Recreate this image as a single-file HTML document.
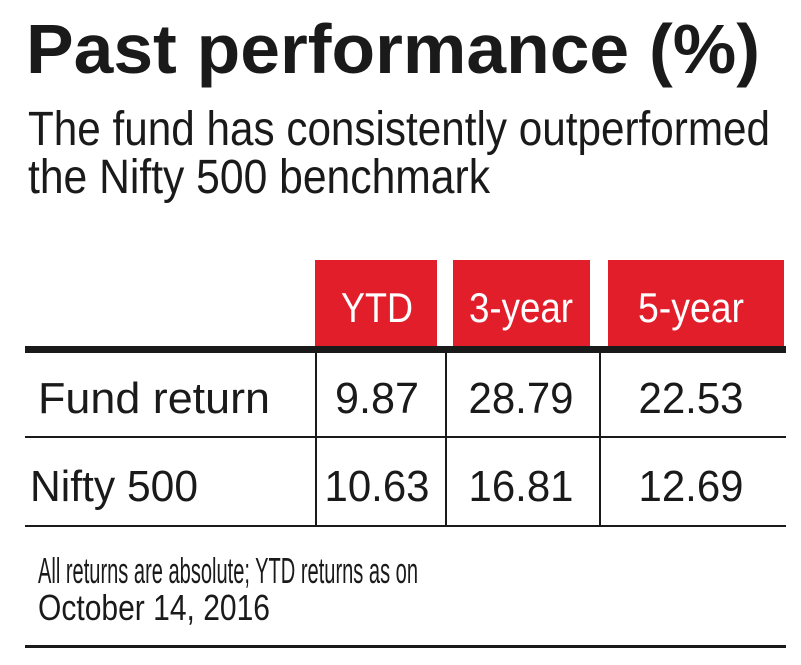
<!DOCTYPE html>
<html><head><meta charset="utf-8"><style>
html,body{margin:0;padding:0;background:#fff;}
svg{display:block;font-family:"Liberation Sans",sans-serif;}
</style></head><body>
<svg id="t" width="801" height="665" viewBox="0 0 801 665">
<text x="26" y="73" font-size="70" font-weight="bold" fill="#1a1a1a" textLength="734" lengthAdjust="spacingAndGlyphs">Past performance (%)</text>
<text x="28" y="145" font-size="48" fill="#1a1a1a" textLength="742" lengthAdjust="spacingAndGlyphs">The fund has consistently outperformed</text>
<text x="28" y="193" font-size="48" fill="#1a1a1a" textLength="462" lengthAdjust="spacingAndGlyphs">the Nifty 500 benchmark</text>
<g id="grid"></g>
<rect x="25" y="346" width="761" height="7" fill="#1a1a1a"/>
<rect x="25" y="436" width="761" height="2" fill="#1a1a1a"/>
<rect x="25" y="525" width="761" height="2" fill="#1a1a1a"/>
<rect x="25" y="645" width="761" height="3" fill="#1a1a1a"/>
<text x="38" y="583" font-size="36" fill="#1a1a1a" textLength="380" lengthAdjust="spacingAndGlyphs">All returns are absolute; YTD returns as on</text>
<text x="38" y="620" font-size="36" fill="#1a1a1a" textLength="232" lengthAdjust="spacingAndGlyphs">October 14, 2016</text>
</svg>
<script>
const columns = ["YTD", "3-year", "5-year"];
const rowLabels = ["Fund return", "Nifty 500"];
const fundValues = ["9.87", "28.79", "22.53"];
const niftyValues = ["10.63", "16.81", "12.69"];

const NS = "http://www.w3.org/2000/svg";
const g = document.getElementById("grid");
const hdr = [[315,437],[453,590],[608,784]];
const colCenters = [377, 521, 691];
const colW = [[72,0],[104,0],[106,0]];
const rowBase = [413, 501];
const rowLabelW = [232, 168];
const vlines = [315, 445, 599];
function mk(tag, attrs){const e=document.createElementNS(NS,tag);for(const k in attrs)e.setAttribute(k,attrs[k]);g.appendChild(e);return e;}
columns.forEach((c,i)=>{
  const r=mk("rect",{x:hdr[i][0],y:260,width:hdr[i][1]-hdr[i][0],height:86,fill:"#e31e2b"});
  
  
  const t=mk("text",{x:colCenters[i],y:322,"font-size":42,fill:"#fff","text-anchor":"middle",textLength:colW[i][0],lengthAdjust:"spacingAndGlyphs"});
  t.textContent=c;
  
  
});
vlines.forEach((x,i)=>{
  const l=mk("rect",{x:x,y:353,width:2,height:173,fill:"#1a1a1a"});
  
  
});
rowLabels.forEach((lab,r)=>{
  const t=mk("text",{x:r===0?38:30,y:rowBase[r],"font-size":44,fill:"#1a1a1a",textLength:rowLabelW[r],lengthAdjust:"spacingAndGlyphs"});
  t.textContent=lab;
  
  
  const vals = r===0?fundValues:niftyValues;
  vals.forEach((v,i)=>{
    const w = v.length*21;
    const c=mk("text",{x:colCenters[i],y:rowBase[r],"font-size":44,fill:"#1a1a1a","text-anchor":"middle",textLength:w,lengthAdjust:"spacingAndGlyphs"});
    c.textContent=v;
    
    
  });
});
</script>
</body></html>
